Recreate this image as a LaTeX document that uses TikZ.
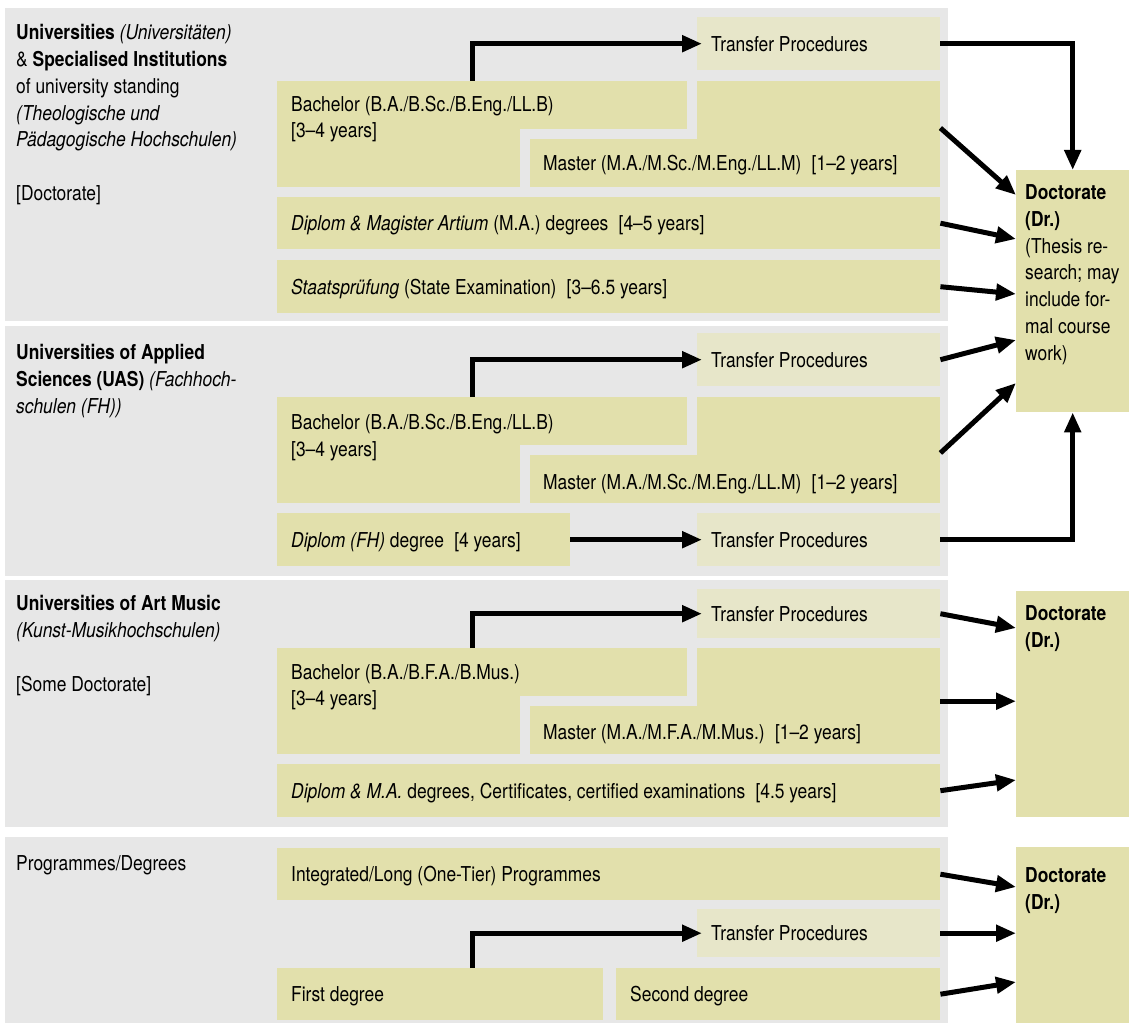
\documentclass[tikz,border=0pt]{standalone}
\usepackage{fontspec}
\setmainfont{TeX Gyre Heros}[FakeStretch=0.85]
\usepackage{tikz}
\usetikzlibrary{arrows.meta}

\definecolor{panelgray}{HTML}{E7E7E7}
\definecolor{progolive}{HTML}{E2E0AC}
\definecolor{xferolive}{HTML}{E7E6C9}

\begin{document}
\begin{tikzpicture}[x=1pt, y=-1pt,
    font=\fontsize{20.5}{26.75}\selectfont,
    panel/.style={anchor=north west, inner sep=0pt, fill=panelgray},
    box/.style={anchor=north west, inner sep=0pt, fill=progolive},
    xfer/.style={box, fill=xferolive},
    tbox/.style={inner xsep=14pt, align=flush left, text height=15pt, text depth=0pt},
    lwide/.style={box, minimum width=410pt, minimum height=48pt},
    ltall/.style={box, minimum width=243pt, minimum height=106pt},
    txt/.style={inner sep=0pt, align=left, anchor=north west},
    conn/.style={line width=5pt, -{Triangle[length=20pt, width=16pt]}}]
    \useasboundingbox (0,0) rectangle (1129,1024);

    % grey bands
    \node[panel, minimum width=943pt, minimum height=313pt] (pan1) at (5,8) {};
    \node[panel, minimum width=943pt, minimum height=250pt] (pan2) at (5,326) {};
    \node[panel, minimum width=943pt, minimum height=247pt] (pan3) at (5,580) {};
    \node[panel, minimum width=943pt, minimum height=186pt] (pan4) at (5,837) {};

    % Universities
    \node[txt] (ttl1) at (16,24.5) {\textbf{Universities} \textit{(Universitäten)}\\
        \& \textbf{Specialised Institutions}\\ of university standing\\
        \textit{(Theologische und}\\ \textit{Pädagogische Hochschulen)}\\[26.75pt]\relax[Doctorate]};
    \node[xfer, tbox, text width=215pt, minimum height=53pt] (tr1) at (697,17) {Transfer Procedures};
    \node[lwide] (bachA1) at (277,81) {};
    \node[ltall] (bachB1) at (277,81) {};
    \node[ltall] (mastA1) at (697,81) {};
    \node[lwide] (mastB1) at (530,139) {};
    \node[txt] (bachT1) at (291,95.5) {Bachelor (B.A./B.Sc./B.Eng./LL.B)\\{[3--4 years]}};
    \node[txt, anchor=base west] (mastT1) at (543,170.4) {Master (M.A./M.Sc./M.Eng./LL.M)\enspace[1--2 years]};
    \node[box, tbox, text width=635pt, minimum height=52pt] (dipl1) at (277,197) {\textit{Diplom \& Magister Artium} (M.A.) degrees\enspace[4--5 years]};
    \node[box, tbox, text width=635pt, minimum height=53pt] (stae1) at (277,260) {\textit{Staatsprüfung} (State Examination)\enspace[3--6.5 years]};
    \node[box, minimum width=113pt, minimum height=242pt] (doc1) at (1016,170) {};
    \node[txt] (docT1) at (1025,184.4) {\textbf{Doctorate}\\ \textbf{(Dr.)}\\ (Thesis re-\\ search; may\\ include for-\\ mal course\\ work)};

    % Universities of Applied Sciences
    \node[txt] (ttl2) at (16,344.4) {\textbf{Universities of Applied}\\
        \textbf{Sciences (UAS)} \textit{(Fachhoch-}\\ \textit{schulen (FH))}};
    \node[xfer, tbox, text width=215pt, minimum height=53pt] (tr2) at (697,333) {Transfer Procedures};
    \node[lwide] (bachA2) at (277,397) {};
    \node[ltall] (bachB2) at (277,397) {};
    \node[ltall] (mastA2) at (697,397) {};
    \node[lwide] (mastB2) at (530,455) {};
    \node[txt] (bachT2) at (291,414.4) {Bachelor (B.A./B.Sc./B.Eng./LL.B)\\{[3--4 years]}};
    \node[txt, anchor=base west] (mastT2) at (543,489.4) {Master (M.A./M.Sc./M.Eng./LL.M)\enspace[1--2 years]};
    \node[box, tbox, text width=265pt, minimum height=53pt] (dipFH) at (277,513) {\textit{Diplom (FH)} degree\enspace[4 years]};
    \node[xfer, tbox, text width=215pt, minimum height=53pt] (tr3) at (697,513) {Transfer Procedures};

    % Universities of Art Music
    \node[txt] (ttl3) at (16,595.4) {\textbf{Universities of Art Music}\\
        \textit{(Kunst-Musikhochschulen)}\\[26.75pt]\relax[Some Doctorate]};
    \node[xfer, tbox, text width=215pt, minimum height=49pt] (tr4) at (697,589) {Transfer Procedures};
    \node[lwide] (bachA3) at (277,648) {};
    \node[ltall] (bachB3) at (277,648) {};
    \node[ltall] (mastA3) at (697,648) {};
    \node[lwide] (mastB3) at (530,706) {};
    \node[txt] (bachT3) at (291,664) {Bachelor (B.A./B.F.A./B.Mus.)\\{[3--4 years]}};
    \node[txt, anchor=base west] (mastT3) at (543,739) {Master (M.A./M.F.A./M.Mus.)\enspace[1--2 years]};
    \node[box, tbox, text width=635pt, minimum height=53pt] (diplMA) at (277,764) {\textit{Diplom \& M.A.} degrees, Certificates, certified examinations\enspace[4.5 years]};
    \node[box, minimum width=113pt, minimum height=226pt] (doc2) at (1016,591) {};
    \node[txt] (docT2) at (1025,605.4) {\textbf{Doctorate}\\ \textbf{(Dr.)}};

    % Programmes/Degrees
    \node[txt] (ttl4) at (16,855.4) {Programmes/Degrees};
    \node[box, tbox, text width=635pt, minimum height=52pt] (integ) at (277,848) {Integrated/Long (One-Tier) Programmes};
    \node[xfer, tbox, text width=215pt, minimum height=48pt] (tr5) at (697,909) {Transfer Procedures};
    \node[box, tbox, text width=298pt, minimum height=52pt] (first) at (277,968) {First degree};
    \node[box, tbox, text width=296pt, minimum height=52pt] (secnd) at (616,968) {Second degree};
    \node[box, minimum width=113pt, minimum height=176pt] (doc3) at (1016,847) {};
    \node[txt] (docT3) at (1025,867.4) {\textbf{Doctorate}\\ \textbf{(Dr.)}};

    % Now draw the arrows:
    \draw[conn, shorten >=-5pt] ([xshift=195pt]bachA1.north west) |- (tr1.west);
    \draw[conn] (tr1.east) -| (doc1.north);
    \draw[conn] ([yshift=-47pt]mastA1.north east) -- ([yshift=-25pt]doc1.north west);
    \draw[conn] (dipl1.east) -- ([yshift=-69pt]doc1.north west);
    \draw[conn] (stae1.east) -- ([yshift=-124pt]doc1.north west);

    \draw[conn, shorten >=-5pt] ([xshift=195pt]bachA2.north west) |- (tr2.west);
    \draw[conn] (tr2.east) -- ([yshift=-170pt]doc1.north west);
    \draw[conn] ([yshift=-56pt]mastA2.north east) -- ([yshift=-213pt]doc1.north west);
    \draw[conn, shorten >=-5pt] (dipFH.east) -- (tr3.west);
    \draw[conn] (tr3.east) -| (doc1.south);

    \draw[conn, shorten >=-5pt] ([xshift=195pt]bachA3.north west) |- (tr4.west);
    \draw[conn] (tr4.east) -- ([yshift=-37pt]doc2.north west);
    \draw[conn] (mastA3.east) -- (mastA3.east -| doc2.west);
    \draw[conn] (diplMA.east) -- ([yshift=-189pt]doc2.north west);

    \draw[conn, shorten >=-5pt] ([xshift=195pt]first.north west) |- (tr5.west);
    \draw[conn] (integ.east) -- ([yshift=-40pt]doc3.north west);
    \draw[conn] (tr5.east) -- (tr5.east -| doc3.west);
    \draw[conn] (secnd.east) -- ([yshift=-135pt]doc3.north west);
\end{tikzpicture}
\end{document}
